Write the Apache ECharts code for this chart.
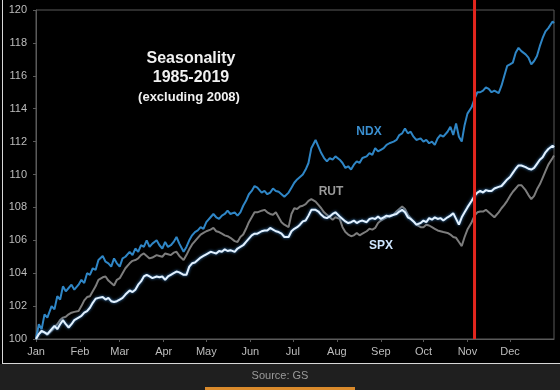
<!DOCTYPE html>
<html>
<head>
<meta charset="utf-8">
<script src="https://cdn.jsdelivr.net/npm/echarts@6/dist/echarts.min.js"></script>
<style>
html,body{margin:0;padding:0;background:#1f1f1f;}
#c{width:560px;height:390px;}
</style>
</head>
<body>
<div id="c"></div>
<script>
// Day of year for each sample
const days = [0,2,4,6,8,11,13,15,17,19,21,23,25,27,30,32,34,36,38,40,42,44,47,49,51,53,55,57,59,61,63,66,68,70,72,74,76,78,80,82,85,87,89,91,93,95,97,99,101,104,106,108,110,112,114,116,118,120,123,125,127,129,131,133,135,137,140,142,144,146,148,150,152,154,156,159,161,163,165,167,169,171,173,175,178,180,182,184,186,188,190,192,194,197,199,201,203,205,207,209,211,214,216,218,220,222,224,226,228,230,233,235,237,239,241,243,245,247,249,252,254,256,258,260,262,264,266,268,271,273,275,277,279,281,283,285,287,290,292,294,296,298,300,302,304,307,309,311,313,315,317,319,321,323,326,328,330,332,334,336,338,340,342,345,347,349,351,353,355,357,359,361,364,365];

const ndx = [100.0,100.9,100.6,101.5,101.3,102.0,101.8,102.6,102.4,103.2,102.9,103.1,103.3,103.0,103.3,103.6,103.4,104.0,103.9,104.3,104.2,104.8,105.05,104.7,104.6,104.4,104.9,104.6,104.4,104.9,105.0,105.3,105.1,105.5,105.3,105.7,105.6,106.0,105.6,105.8,106.0,105.7,105.5,105.9,105.6,105.7,105.9,106.2,105.8,105.3,105.6,106.0,106.3,106.5,106.6,106.8,106.7,107.1,107.4,107.6,107.4,107.3,107.5,107.6,107.8,107.6,107.7,107.5,107.7,108.1,108.4,108.8,109.0,109.3,109.2,108.9,109.0,108.8,108.9,109.15,109.0,108.95,108.8,108.65,108.9,109.2,109.5,109.7,109.85,110.0,110.3,110.7,111.6,112.1,111.7,111.3,111.0,110.8,111.0,110.9,111.1,110.9,110.7,110.4,110.5,110.3,110.6,110.8,110.7,111.0,111.1,111.3,111.2,111.6,111.4,111.5,111.6,111.8,111.9,112.0,112.1,112.4,112.5,112.8,112.5,112.6,112.3,112.1,112.2,112.0,112.1,111.9,112.0,111.8,112.2,112.4,112.3,112.6,112.9,112.4,113.1,112.3,112.0,113.0,113.7,114.1,114.6,115.0,115.0,115.1,115.3,115.2,115.0,115.1,114.95,115.4,116.0,116.6,116.7,116.8,117.4,117.7,117.5,117.3,117.1,116.7,116.9,117.2,117.8,118.3,118.7,118.9,119.3,119.2];

const spx = [100.0,100.3,100.5,100.4,100.3,100.6,100.8,100.6,100.9,101.15,100.9,100.7,100.9,101.15,101.3,101.4,101.6,101.7,101.9,102.2,102.45,102.5,102.55,102.4,102.5,102.3,102.25,102.3,102.4,102.5,102.7,102.95,102.85,103.0,103.3,103.5,103.8,103.9,103.8,103.7,103.8,103.75,103.8,103.6,103.8,103.9,104.0,104.1,104.05,103.9,103.9,104.4,104.6,104.65,104.8,104.95,105.05,105.15,105.3,105.25,105.2,105.35,105.3,105.45,105.35,105.4,105.3,105.5,105.6,105.7,105.9,106.1,106.3,106.4,106.4,106.55,106.6,106.6,106.75,106.65,106.55,106.5,106.4,106.2,106.2,106.55,106.7,106.8,106.95,107.15,107.2,107.5,107.85,107.85,107.75,107.55,107.4,107.35,107.45,107.6,107.7,107.45,107.3,107.15,107.05,107.1,107.2,107.05,107.15,107.2,107.1,107.3,107.35,107.3,107.45,107.3,107.4,107.5,107.45,107.55,107.6,107.75,107.85,107.7,107.4,107.3,107.15,106.95,107.05,107.2,107.1,107.35,107.25,107.4,107.3,107.35,107.2,107.4,107.5,107.65,107.3,106.95,107.4,107.7,108.0,108.4,108.7,108.9,109.0,108.9,109.05,109.0,109.0,109.15,109.25,109.3,109.5,109.7,109.85,110.1,110.35,110.55,110.55,110.45,110.35,110.3,110.4,110.65,110.9,111.05,111.35,111.55,111.75,111.65];

const rut = [100.0,100.3,100.45,100.4,100.25,100.5,100.7,100.9,101.15,101.3,101.35,101.5,101.6,101.65,101.7,102.0,102.35,102.55,102.6,102.9,103.2,103.6,103.75,103.8,103.55,103.4,103.25,103.6,103.7,104.0,104.3,104.6,104.75,104.8,104.9,105.1,105.2,105.05,104.9,104.95,105.1,105.05,105.0,105.2,105.15,105.1,105.25,105.3,105.05,104.8,105.1,105.45,105.75,105.95,106.15,106.35,106.45,106.55,106.65,106.75,106.55,106.5,106.4,106.3,106.25,106.15,105.95,105.9,106.2,106.35,106.7,107.1,107.4,107.7,107.7,107.8,107.85,107.7,107.6,107.55,107.7,107.4,107.1,106.95,106.8,107.6,107.95,107.9,108.05,108.1,108.2,108.4,108.5,108.35,108.15,107.95,107.7,107.55,107.4,107.25,107.4,107.3,106.8,106.5,106.35,106.25,106.3,106.45,106.3,106.4,106.55,106.7,106.65,106.75,107.05,107.2,107.3,107.4,107.5,107.55,107.75,107.9,108.05,107.9,107.55,107.35,107.15,106.95,106.8,106.8,106.95,106.9,106.8,106.7,106.6,106.55,106.5,106.45,106.35,106.2,106.15,105.9,105.65,106.2,106.65,107.1,107.5,107.7,107.75,107.75,107.85,107.7,107.55,107.4,107.7,107.95,108.15,108.4,108.7,108.95,109.15,109.35,109.35,109.05,108.75,108.5,108.7,109.1,109.4,109.8,110.2,110.6,111.0,111.15];

const monthStarts = [0,31,59,90,120,151,181,212,243,273,304,334];
const monthNames = ['Jan','Feb','Mar','Apr','May','Jun','Jul','Aug','Sep','Oct','Nov','Dec'];
const yTicks = [100,102,104,106,108,110,112,114,116,118,120];
const markerDay = 309;

function pairs(vals){ return days.map((d,i)=>[d, vals[i]]); }

const chart = echarts.init(document.getElementById('c'), null, {renderer:'canvas'});
const FONT = '"Liberation Sans", Arial, sans-serif';

chart.setOption({
  backgroundColor: '#000',
  animation: false,
  grid: {left: 36, right: 6, top: 10, bottom: 51, show: true, borderColor: '#5a5a5a', borderWidth: 1},
  xAxis: {
    type: 'value', min: 0, max: 365,
    axisLine: {show: true, lineStyle: {color: '#5a5a5a'}},
    axisTick: {show: true, length: 3, lineStyle: {color: '#5a5a5a'}, customValues: monthStarts},
    axisLabel: {color: '#bdbdbd', fontSize: 11, fontFamily: FONT, margin: 7,
      customValues: monthStarts,
      formatter: v => monthNames[monthStarts.indexOf(v)] || ''},
    splitLine: {show: false}
  },
  yAxis: {
    type: 'value', min: yTicks[0], max: yTicks[yTicks.length-1], interval: 2,
    axisLine: {show: true, lineStyle: {color: '#5a5a5a'}},
    axisTick: {show: true, length: 3, lineStyle: {color: '#5a5a5a'}},
    axisLabel: {color: '#bdbdbd', fontSize: 11, fontFamily: FONT, margin: 9},
    splitLine: {show: false}
  },
  series: [
    {name: 'NDX', type: 'line', data: pairs(ndx), showSymbol: false, symbol: 'none',
     lineStyle: {color: '#2f86c6', width: 2}, z: 3},
    {name: 'RUT', type: 'line', data: pairs(rut), showSymbol: false, symbol: 'none',
     lineStyle: {color: '#7d7d7d', width: 2}, z: 4},
    {name: 'SPX', type: 'line', data: pairs(spx), showSymbol: false, symbol: 'none',
     lineStyle: {color: '#e2f1ff', width: 2, shadowColor: '#3f86c8', shadowBlur: 3}, z: 5}
  ]
});

const px = chart.convertToPixel({xAxisIndex: 0}, markerDay);
const yBottom = chart.convertToPixel({yAxisIndex: 0}, yTicks[0]);

chart.setOption({
  graphic: [
    {type: 'rect', shape: {x: 0, y: 364, width: 560, height: 26}, style: {fill: '#1f1f1f'}, z: 10},
    {type: 'line', shape: {x1: 2, y1: 363.5, x2: 560, y2: 363.5}, style: {stroke: '#d8d8d8', lineWidth: 1}, z: 10},
    {type: 'line', shape: {x1: 2.5, y1: 0, x2: 2.5, y2: 364}, style: {stroke: '#d8d8d8', lineWidth: 1}, z: 10},
    {type: 'rect', shape: {x: 205, y: 387, width: 150, height: 3}, style: {fill: '#d98a2b'}, z: 10},
    {type: 'text', x: 280, y: 376, style: {text: 'Source: GS', fill: '#9a9a9a', font: '11px ' + FONT, textAlign: 'center', textVerticalAlign: 'middle'}, z: 10},
    {type: 'line', shape: {x1: px, y1: 0, x2: px, y2: yBottom}, style: {stroke: '#e3261e', lineWidth: 3}, z: 20},
    {type: 'text', x: 191, y: 59, style: {text: 'Seasonality', fill: '#f0f0f0', font: 'bold 16px ' + FONT, textAlign: 'center', textVerticalAlign: 'middle'}, z: 10},
    {type: 'text', x: 191, y: 78, style: {text: '1985-2019', fill: '#f0f0f0', font: 'bold 16px ' + FONT, textAlign: 'center', textVerticalAlign: 'middle'}, z: 10},
    {type: 'text', x: 189, y: 97, style: {text: '(excluding 2008)', fill: '#f0f0f0', font: 'bold 13px ' + FONT, textAlign: 'center', textVerticalAlign: 'middle'}, z: 10},
    {type: 'text', x: 369, y: 132, style: {text: 'NDX', fill: '#3a8fd0', font: 'bold 12px ' + FONT, textAlign: 'center', textVerticalAlign: 'middle'}, z: 10},
    {type: 'text', x: 331, y: 192, style: {text: 'RUT', fill: '#9a9a9a', font: 'bold 12px ' + FONT, textAlign: 'center', textVerticalAlign: 'middle'}, z: 10},
    {type: 'text', x: 381, y: 246, style: {text: 'SPX', fill: '#cfe6ff', font: 'bold 12px ' + FONT, textAlign: 'center', textVerticalAlign: 'middle'}, z: 10}
  ]
});
</script>
</body>
</html>
